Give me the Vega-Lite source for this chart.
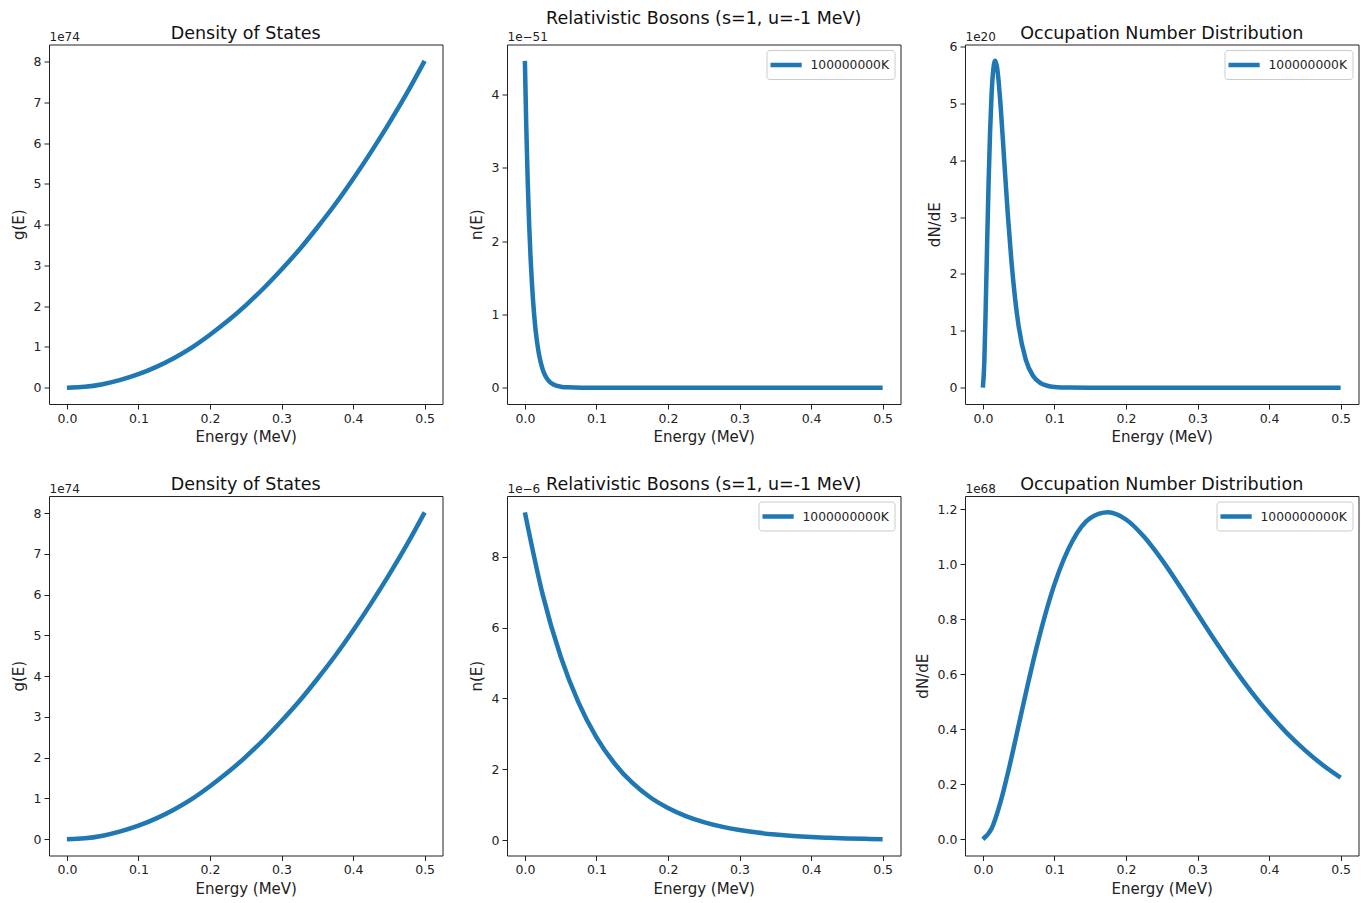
{
  "$schema": "https://vega.github.io/schema/vega-lite/v6.json",
  "padding": {"left": 10, "top": 9.5, "right": 4, "bottom": 4},
  "background": "white",
  "config": {
    "font": "DejaVu Sans",
    "view": {"stroke": "#222222", "strokeWidth": 1},
    "axis": {"labelFont": "DejaVu Sans", "labelFontSize": 12.5, "labelColor": "#222222", "titleFont": "DejaVu Sans", "titleFontSize": 15, "titleFontWeight": "normal", "titleColor": "#222222", "tickColor": "#222222", "tickSize": 5, "tickWidth": 1, "labelPadding": 3, "grid": false, "domain": false, "labelFlush": false, "labelOverlap": false},
    "axisX": {"titlePadding": 5},
    "axisY": {"titlePadding": 7},
    "title": {"font": "DejaVu Sans", "fontSize": 17.5, "fontWeight": "normal", "color": "#111111", "frame": "group", "anchor": "middle", "offset": -11.5},
    "legend": {"orient": "none", "legendY": 5.5, "padding": 5, "strokeColor": "#cccccc", "fillColor": "#ffffff", "cornerRadius": 3, "labelFont": "DejaVu Sans", "labelFontSize": 12.3, "labelColor": "#222222", "symbolType": "M-1.47,0H2.69", "symbolSize": 225, "symbolStrokeWidth": 4.5, "labelOffset": 19}
  },
  "datasets": {
    "dos": [
      {"E": 0, "g": 0}, {"E": 0.025, "g": 0.02}, {"E": 0.05, "g": 0.085}, {"E": 0.075, "g": 0.19}, {"E": 0.1, "g": 0.33}, {"E": 0.125, "g": 0.51}, {"E": 0.15, "g": 0.73}, {"E": 0.175, "g": 0.99}, {"E": 0.2, "g": 1.3}, {"E": 0.225, "g": 1.64}, {"E": 0.25, "g": 2.02}, {"E": 0.275, "g": 2.44}, {"E": 0.3, "g": 2.9}, {"E": 0.325, "g": 3.39}, {"E": 0.35, "g": 3.93}, {"E": 0.375, "g": 4.5}, {"E": 0.4, "g": 5.12}, {"E": 0.425, "g": 5.78}, {"E": 0.45, "g": 6.48}, {"E": 0.475, "g": 7.22}, {"E": 0.5, "g": 8.02}
    ],
    "n8": [
      {"E": 0, "n": 4.46, "T": "100000000K"}, {"E": 0.002, "n": 3.54, "T": "100000000K"}, {"E": 0.004, "n": 2.8, "T": "100000000K"}, {"E": 0.006, "n": 2.22, "T": "100000000K"}, {"E": 0.008, "n": 1.76, "T": "100000000K"}, {"E": 0.01, "n": 1.4, "T": "100000000K"}, {"E": 0.0125, "n": 1.05, "T": "100000000K"}, {"E": 0.015, "n": 0.78, "T": "100000000K"}, {"E": 0.0175, "n": 0.59, "T": "100000000K"}, {"E": 0.02, "n": 0.44, "T": "100000000K"}, {"E": 0.025, "n": 0.245, "T": "100000000K"}, {"E": 0.03, "n": 0.137, "T": "100000000K"}, {"E": 0.035, "n": 0.077, "T": "100000000K"}, {"E": 0.04, "n": 0.043, "T": "100000000K"}, {"E": 0.05, "n": 0.0135, "T": "100000000K"}, {"E": 0.06, "n": 0.004, "T": "100000000K"}, {"E": 0.08, "n": 0.0004, "T": "100000000K"}, {"E": 0.1, "n": 0.00004, "T": "100000000K"}, {"E": 0.2, "n": 0, "T": "100000000K"}, {"E": 0.3, "n": 0, "T": "100000000K"}, {"E": 0.4, "n": 0, "T": "100000000K"}, {"E": 0.5, "n": 0, "T": "100000000K"}
    ],
    "dn8": [
      {"E": 0, "d": 0, "T": "100000000K"}, {"E": 0.002, "d": 0.45, "T": "100000000K"}, {"E": 0.004, "d": 1.44, "T": "100000000K"}, {"E": 0.006, "d": 2.57, "T": "100000000K"}, {"E": 0.008, "d": 3.62, "T": "100000000K"}, {"E": 0.01, "d": 4.48, "T": "100000000K"}, {"E": 0.012, "d": 5.12, "T": "100000000K"}, {"E": 0.014, "d": 5.52, "T": "100000000K"}, {"E": 0.016, "d": 5.72, "T": "100000000K"}, {"E": 0.0172, "d": 5.75, "T": "100000000K"}, {"E": 0.02, "d": 5.62, "T": "100000000K"}, {"E": 0.025, "d": 4.92, "T": "100000000K"}, {"E": 0.03, "d": 3.96, "T": "100000000K"}, {"E": 0.035, "d": 3.02, "T": "100000000K"}, {"E": 0.04, "d": 2.21, "T": "100000000K"}, {"E": 0.045, "d": 1.57, "T": "100000000K"}, {"E": 0.05, "d": 1.08, "T": "100000000K"}, {"E": 0.06, "d": 0.49, "T": "100000000K"}, {"E": 0.07, "d": 0.21, "T": "100000000K"}, {"E": 0.08, "d": 0.085, "T": "100000000K"}, {"E": 0.09, "d": 0.034, "T": "100000000K"}, {"E": 0.1, "d": 0.013, "T": "100000000K"}, {"E": 0.12, "d": 0.002, "T": "100000000K"}, {"E": 0.15, "d": 0.0001, "T": "100000000K"}, {"E": 0.2, "d": 0, "T": "100000000K"}, {"E": 0.3, "d": 0, "T": "100000000K"}, {"E": 0.4, "d": 0, "T": "100000000K"}, {"E": 0.5, "d": 0, "T": "100000000K"}
    ],
    "n9": [
      {"E": 0, "n": 9.25, "T": "1000000000K"}, {"E": 0.025, "n": 6.92, "T": "1000000000K"}, {"E": 0.05, "n": 5.18, "T": "1000000000K"}, {"E": 0.075, "n": 3.88, "T": "1000000000K"}, {"E": 0.1, "n": 2.9, "T": "1000000000K"}, {"E": 0.125, "n": 2.17, "T": "1000000000K"}, {"E": 0.15, "n": 1.62, "T": "1000000000K"}, {"E": 0.175, "n": 1.21, "T": "1000000000K"}, {"E": 0.2, "n": 0.909, "T": "1000000000K"}, {"E": 0.225, "n": 0.68, "T": "1000000000K"}, {"E": 0.25, "n": 0.509, "T": "1000000000K"}, {"E": 0.275, "n": 0.381, "T": "1000000000K"}, {"E": 0.3, "n": 0.285, "T": "1000000000K"}, {"E": 0.325, "n": 0.213, "T": "1000000000K"}, {"E": 0.35, "n": 0.16, "T": "1000000000K"}, {"E": 0.375, "n": 0.119, "T": "1000000000K"}, {"E": 0.4, "n": 0.089, "T": "1000000000K"}, {"E": 0.425, "n": 0.067, "T": "1000000000K"}, {"E": 0.45, "n": 0.05, "T": "1000000000K"}, {"E": 0.475, "n": 0.037, "T": "1000000000K"}, {"E": 0.5, "n": 0.028, "T": "1000000000K"}
    ],
    "dn9": [
      {"E": 0, "d": 0, "T": "1000000000K"}, {"E": 0.0125, "d": 0.04, "T": "1000000000K"}, {"E": 0.025, "d": 0.138, "T": "1000000000K"}, {"E": 0.0375, "d": 0.269, "T": "1000000000K"}, {"E": 0.05, "d": 0.414, "T": "1000000000K"}, {"E": 0.0625, "d": 0.56, "T": "1000000000K"}, {"E": 0.075, "d": 0.697, "T": "1000000000K"}, {"E": 0.1, "d": 0.927, "T": "1000000000K"}, {"E": 0.125, "d": 1.084, "T": "1000000000K"}, {"E": 0.15, "d": 1.168, "T": "1000000000K"}, {"E": 0.175, "d": 1.189, "T": "1000000000K"}, {"E": 0.2, "d": 1.163, "T": "1000000000K"}, {"E": 0.225, "d": 1.101, "T": "1000000000K"}, {"E": 0.25, "d": 1.017, "T": "1000000000K"}, {"E": 0.275, "d": 0.921, "T": "1000000000K"}, {"E": 0.3, "d": 0.82, "T": "1000000000K"}, {"E": 0.325, "d": 0.72, "T": "1000000000K"}, {"E": 0.35, "d": 0.625, "T": "1000000000K"}, {"E": 0.375, "d": 0.537, "T": "1000000000K"}, {"E": 0.4, "d": 0.457, "T": "1000000000K"}, {"E": 0.425, "d": 0.386, "T": "1000000000K"}, {"E": 0.45, "d": 0.324, "T": "1000000000K"}, {"E": 0.475, "d": 0.27, "T": "1000000000K"}, {"E": 0.5, "d": 0.224, "T": "1000000000K"}
    ]
  },
  "columns": 3,
  "spacing": {"row": 91.5, "column": 64},
  "bounds": "flush",
  "resolve": {"scale": {"color": "independent"}, "legend": {"color": "independent"}},
  "concat": [
    {
      "width": 393.5, "height": 359.5,
      "title": {"text": "Density of States"},
      "data": {"name": "dos"},
      "encoding": {"x": {"field": "E", "type": "quantitative", "scale": {"domain": [-0.025, 0.525], "nice": false, "zero": false}, "axis": {"title": "Energy (MeV)", "values": [0, 0.1, 0.2, 0.3, 0.4, 0.5], "format": ".1f"}}},
      "layer": [
        {"mark": {"type": "line", "color": "#1f77b4", "strokeWidth": 4.5, "interpolate": "monotone"},
         "encoding": {"y": {"field": "g", "type": "quantitative", "scale": {"domain": [-0.401, 8.421], "nice": false, "zero": false}, "axis": {"title": "g(E)", "values": [0, 1, 2, 3, 4, 5, 6, 7, 8]}}}},
        {"mark": {"type": "line", "opacity": 0},
         "encoding": {"y": {"field": "g", "type": "quantitative", "scale": {"domain": [-0.401, 8.421], "nice": false, "zero": false}, "axis": {"orient": "left", "title": "1e74", "labels": false, "ticks": false, "domain": false, "titleAngle": 0, "titleX": 0, "titleY": -4, "titleAlign": "left", "titleBaseline": "alphabetic", "titleFontSize": 12, "titlePadding": 0}}}}
      ],
      "resolve": {"axis": {"y": "independent"}}
    },
    {
      "width": 393.5, "height": 359.5,
      "title": {"text": "Relativistic Bosons (s=1, u=-1 MeV)", "offset": 3},
      "data": {"name": "n8"},
      "encoding": {"x": {"field": "E", "type": "quantitative", "scale": {"domain": [-0.025, 0.525], "nice": false, "zero": false}, "axis": {"title": "Energy (MeV)", "values": [0, 0.1, 0.2, 0.3, 0.4, 0.5], "format": ".1f"}}},
      "layer": [
        {"mark": {"type": "line", "strokeWidth": 4.5, "interpolate": "monotone"},
         "encoding": {"y": {"field": "n", "type": "quantitative", "scale": {"domain": [-0.223, 4.683], "nice": false, "zero": false}, "axis": {"title": "n(E)", "values": [0, 1, 2, 3, 4]}},
                      "color": {"field": "T", "type": "nominal", "scale": {"range": ["#1f77b4"]}, "legend": {"title": null, "orient": "none", "legendX": 259.5, "legendY": 5.5, "symbolType": "M-1.47,0H2.69", "symbolSize": 225, "symbolStrokeWidth": 4.5}}}},
        {"mark": {"type": "line", "opacity": 0},
         "encoding": {"y": {"field": "n", "type": "quantitative", "scale": {"domain": [-0.223, 4.683], "nice": false, "zero": false}, "axis": {"orient": "left", "title": "1e−51", "labels": false, "ticks": false, "domain": false, "titleAngle": 0, "titleX": 0, "titleY": -4, "titleAlign": "left", "titleBaseline": "alphabetic", "titleFontSize": 12, "titlePadding": 0}}}}
      ],
      "resolve": {"axis": {"y": "independent"}}
    },
    {
      "width": 393.5, "height": 359.5,
      "title": {"text": "Occupation Number Distribution"},
      "data": {"name": "dn8"},
      "encoding": {"x": {"field": "E", "type": "quantitative", "scale": {"domain": [-0.025, 0.525], "nice": false, "zero": false}, "axis": {"title": "Energy (MeV)", "values": [0, 0.1, 0.2, 0.3, 0.4, 0.5], "format": ".1f"}}},
      "layer": [
        {"mark": {"type": "line", "strokeWidth": 4.5, "interpolate": "monotone"},
         "encoding": {"y": {"field": "d", "type": "quantitative", "scale": {"domain": [-0.2875, 6.0375], "nice": false, "zero": false}, "axis": {"title": "dN/dE", "values": [0, 1, 2, 3, 4, 5, 6]}},
                      "color": {"field": "T", "type": "nominal", "scale": {"range": ["#1f77b4"]}, "legend": {"title": null, "orient": "none", "legendX": 259.5, "legendY": 5.5, "symbolType": "M-1.47,0H2.69", "symbolSize": 225, "symbolStrokeWidth": 4.5}}}},
        {"mark": {"type": "line", "opacity": 0},
         "encoding": {"y": {"field": "d", "type": "quantitative", "scale": {"domain": [-0.2875, 6.0375], "nice": false, "zero": false}, "axis": {"orient": "left", "title": "1e20", "labels": false, "ticks": false, "domain": false, "titleAngle": 0, "titleX": 0, "titleY": -4, "titleAlign": "left", "titleBaseline": "alphabetic", "titleFontSize": 12, "titlePadding": 0}}}}
      ],
      "resolve": {"axis": {"y": "independent"}}
    },
    {
      "width": 393.5, "height": 359.5,
      "title": {"text": "Density of States"},
      "data": {"name": "dos"},
      "encoding": {"x": {"field": "E", "type": "quantitative", "scale": {"domain": [-0.025, 0.525], "nice": false, "zero": false}, "axis": {"title": "Energy (MeV)", "values": [0, 0.1, 0.2, 0.3, 0.4, 0.5], "format": ".1f"}}},
      "layer": [
        {"mark": {"type": "line", "color": "#1f77b4", "strokeWidth": 4.5, "interpolate": "monotone"},
         "encoding": {"y": {"field": "g", "type": "quantitative", "scale": {"domain": [-0.401, 8.421], "nice": false, "zero": false}, "axis": {"title": "g(E)", "values": [0, 1, 2, 3, 4, 5, 6, 7, 8]}}}},
        {"mark": {"type": "line", "opacity": 0},
         "encoding": {"y": {"field": "g", "type": "quantitative", "scale": {"domain": [-0.401, 8.421], "nice": false, "zero": false}, "axis": {"orient": "left", "title": "1e74", "labels": false, "ticks": false, "domain": false, "titleAngle": 0, "titleX": 0, "titleY": -4, "titleAlign": "left", "titleBaseline": "alphabetic", "titleFontSize": 12, "titlePadding": 0}}}}
      ],
      "resolve": {"axis": {"y": "independent"}}
    },
    {
      "width": 393.5, "height": 359.5,
      "title": {"text": "Relativistic Bosons (s=1, u=-1 MeV)"},
      "data": {"name": "n9"},
      "encoding": {"x": {"field": "E", "type": "quantitative", "scale": {"domain": [-0.025, 0.525], "nice": false, "zero": false}, "axis": {"title": "Energy (MeV)", "values": [0, 0.1, 0.2, 0.3, 0.4, 0.5], "format": ".1f"}}},
      "layer": [
        {"mark": {"type": "line", "strokeWidth": 4.5, "interpolate": "monotone"},
         "encoding": {"y": {"field": "n", "type": "quantitative", "scale": {"domain": [-0.433, 9.711], "nice": false, "zero": false}, "axis": {"title": "n(E)", "values": [0, 2, 4, 6, 8]}},
                      "color": {"field": "T", "type": "nominal", "scale": {"range": ["#1f77b4"]}, "legend": {"title": null, "orient": "none", "legendX": 251.5, "legendY": 5.5, "symbolType": "M-1.47,0H2.69", "symbolSize": 225, "symbolStrokeWidth": 4.5}}}},
        {"mark": {"type": "line", "opacity": 0},
         "encoding": {"y": {"field": "n", "type": "quantitative", "scale": {"domain": [-0.433, 9.711], "nice": false, "zero": false}, "axis": {"orient": "left", "title": "1e−6", "labels": false, "ticks": false, "domain": false, "titleAngle": 0, "titleX": 0, "titleY": -4, "titleAlign": "left", "titleBaseline": "alphabetic", "titleFontSize": 12, "titlePadding": 0}}}}
      ],
      "resolve": {"axis": {"y": "independent"}}
    },
    {
      "width": 393.5, "height": 359.5,
      "title": {"text": "Occupation Number Distribution"},
      "data": {"name": "dn9"},
      "encoding": {"x": {"field": "E", "type": "quantitative", "scale": {"domain": [-0.025, 0.525], "nice": false, "zero": false}, "axis": {"title": "Energy (MeV)", "values": [0, 0.1, 0.2, 0.3, 0.4, 0.5], "format": ".1f"}}},
      "layer": [
        {"mark": {"type": "line", "strokeWidth": 4.5, "interpolate": "monotone"},
         "encoding": {"y": {"field": "d", "type": "quantitative", "scale": {"domain": [-0.0595, 1.2485], "nice": false, "zero": false}, "axis": {"title": "dN/dE", "values": [0, 0.2, 0.4, 0.6, 0.8, 1.0, 1.2], "format": ".1f"}},
                      "color": {"field": "T", "type": "nominal", "scale": {"range": ["#1f77b4"]}, "legend": {"title": null, "orient": "none", "legendX": 251.5, "legendY": 5.5, "symbolType": "M-1.47,0H2.69", "symbolSize": 225, "symbolStrokeWidth": 4.5}}}},
        {"mark": {"type": "line", "opacity": 0},
         "encoding": {"y": {"field": "d", "type": "quantitative", "scale": {"domain": [-0.0595, 1.2485], "nice": false, "zero": false}, "axis": {"orient": "left", "title": "1e68", "labels": false, "ticks": false, "domain": false, "titleAngle": 0, "titleX": 0, "titleY": -4, "titleAlign": "left", "titleBaseline": "alphabetic", "titleFontSize": 12, "titlePadding": 0}}}}
      ],
      "resolve": {"axis": {"y": "independent"}}
    }
  ]
}
